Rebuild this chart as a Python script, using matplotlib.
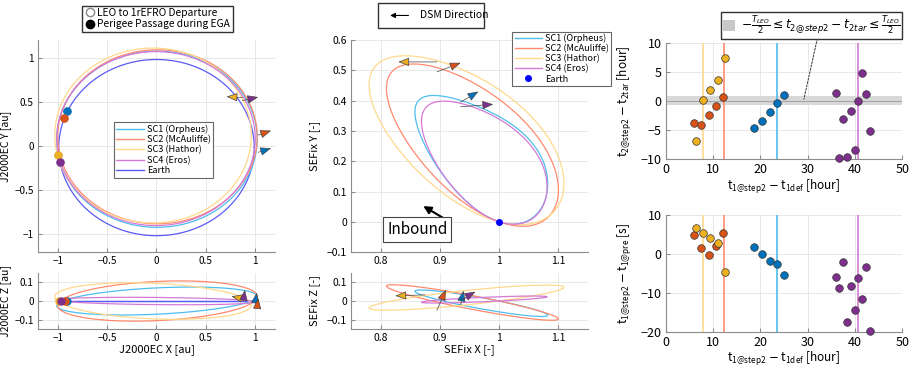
import numpy as np
import matplotlib
matplotlib.use("Agg")
import matplotlib.pyplot as plt
from matplotlib.lines import Line2D
from matplotlib.patches import Patch, Rectangle, FancyArrowPatch
from matplotlib.ticker import FuncFormatter

plt.rcParams['font.family'] = ['Noto Sans CJK JP', 'DejaVu Sans']
plt.rcParams['font.size'] = 7.5
plt.rcParams['axes.unicode_minus'] = True

# ---- data ----
sc_names = ['SC1 (Orpheus)', 'SC2 (McAuliffe)', 'SC3 (Hathor)', 'SC4 (Eros)']
line_colors = ['#4DBEEE', '#FF8A6E', '#FFD98C', '#D47AD6']
dot_colors = ['#0072BD', '#D95319', '#EDB120', '#7E2F8E']
earth_color = '#5A5AF5'

# J2000EC orbits (ellipse centre, semi-axes, out-of-plane amplitude)
j2k_cx = [0.005, 0.01, -0.035, -0.005]
j2k_cy = [0.078, 0.105, 0.12, 0.085]
j2k_a = [1.015, 1.01, 0.995, 1.005]
j2k_b = [0.9975, 0.985, 0.99, 0.985]
j2k_kz = [0.075, 0.108, 0.098, 0.02]
earth_c = [0.0, -0.017]
earth_r = [0.99, 0.9975]
perigee_x = [-0.905, -0.935, -0.995, -0.98]
perigee_y = [0.40, 0.32, -0.10, -0.18]
perigee_z_x = [-0.905, -0.93, -0.99, -0.97]

# DSM direction arrows (tail -> head), J2000EC X-Y and X-Z
j2k_xy_tail = [(1.03, -0.07), (1.03, 0.125), (0.87, 0.55), (0.87, 0.515)]
j2k_xy_head = [(1.16, -0.025), (1.16, 0.175), (0.71, 0.56), (1.03, 0.555)]
j2k_xz_tail = [(1.0, -0.015), (1.02, -0.035), (0.88, 0.012), (0.88, 0.0)]
j2k_xz_head = [(1.015, 0.045), (1.03, 0.015), (0.76, 0.025), (0.895, 0.06)]

# SEFix loops (t = 0 at Earth)
sef_cx = [0.97, 0.955, 0.945, 0.975]
sef_ax = [0.03, 0.045, 0.055, 0.025]
sef_bx = [0.108, 0.138, 0.155, 0.103]
sef_cy = [0.199, 0.25, 0.2675, 0.1915]
sef_by = [-0.0675, -0.095, -0.0775, -0.065]
sef_gy = [0.0485, 0.025, 0.025, 0.0335]
sef_cz = [-0.012, -0.008, 0.018, 0.008]
sef_bz = [-0.07, -0.095, 0.065, 0.017]
sef_xy_tail = [(0.935, 0.395), (0.895, 0.495), (0.895, 0.528), (0.935, 0.38)]
sef_xy_head = [(0.965, 0.43), (0.935, 0.525), (0.83, 0.528), (0.99, 0.388)]
sef_xz_tail = [(0.935, -0.02), (0.895, -0.05), (0.875, 0.033), (0.935, 0.005)]
sef_xz_head = [(0.94, 0.055), (0.91, 0.06), (0.825, 0.028), (0.96, 0.05)]

# step-2 timing results
dt1_sc1 = [18.75, 20.4, 21.95, 23.55, 25.1]
dt2_sc1 = [-4.73, -3.41, -1.92, -0.37, 1.0]
dpre_sc1 = [1.77, -0.03, -1.74, -2.51, -5.34]
dt1_sc2 = [5.9, 7.5, 9.05, 10.6, 12.2]
dt2_sc2 = [-3.75, -4.1, -2.44, -0.83, 0.72]
dpre_sc2 = [4.94, 1.43, -0.28, 2.12, 5.28]
dt1_sc3 = [6.35, 7.9, 9.45, 11.0, 12.6]
dt2_sc3 = [-6.85, 0.14, 1.86, 3.58, 7.36]
dpre_sc3 = [6.65, 5.28, 4.0, 2.8, -4.74]
dt1_sc4 = [35.95, 36.7, 37.5, 38.3, 39.1, 39.9, 40.7, 41.5, 42.3, 43.1]
dt2_sc4 = [1.35, -9.83, -3.12, -9.71, -1.75, -8.4, 0.03, 4.73, 1.23, -5.24]
dpre_sc4 = [-5.86, -8.68, -2.17, -17.6, -8.17, -14.4, -6.27, -11.68, -3.28, -19.8]
t1def_line = [23.6, 12.3, 7.95, 40.7]
t_leo_half = 0.75

dt1_all = [dt1_sc1, dt1_sc2, dt1_sc3, dt1_sc4]
dt2_all = [dt2_sc1, dt2_sc2, dt2_sc3, dt2_sc4]
dpre_all = [dpre_sc1, dpre_sc2, dpre_sc3, dpre_sc4]


def fmt(v, pos):
    return ('%g' % v).replace('-', '\u2212')


def style(ax, size=7.5):
    ax.grid(True, color='#e4e4e4', lw=0.6)
    ax.set_axisbelow(True)
    for s in ['top', 'right']:
        ax.spines[s].set_visible(False)
    for s in ['left', 'bottom']:
        ax.spines[s].set_color('#8c8c8c')
        ax.spines[s].set_linewidth(0.8)
    ax.tick_params(direction='in', length=3, color='#8c8c8c', labelsize=size, pad=3)
    ax.xaxis.set_major_formatter(FuncFormatter(fmt))
    ax.yaxis.set_major_formatter(FuncFormatter(fmt))


def arrow(ax, tail, head, color):
    ax.annotate('', xy=head, xytext=tail,
                arrowprops=dict(arrowstyle='-|>,head_length=0.9,head_width=0.35',
                                fc=color, ec='#444444', lw=0.5, shrinkA=0, shrinkB=0))


def frame(leg, ec='#666666', lw=0.8):
    leg.get_frame().set_edgecolor(ec)
    leg.get_frame().set_linewidth(lw)


fig = plt.figure(figsize=(9.2, 3.68), dpi=100)
ax1 = fig.add_axes([0.0413, 0.315, 0.2576, 0.576])
ax2 = fig.add_axes([0.0413, 0.106, 0.2576, 0.152])
ax3 = fig.add_axes([0.3815, 0.315, 0.2576, 0.576])
ax4 = fig.add_axes([0.3815, 0.106, 0.2576, 0.152])
ax5 = fig.add_axes([0.7236, 0.568, 0.2572, 0.316])
ax6 = fig.add_axes([0.7236, 0.0986, 0.2572, 0.317])

# ---- J2000EC ----
tt = np.linspace(0, 2 * np.pi, 400)
ax1.plot(earth_c[0] + earth_r[0] * np.cos(tt), earth_c[1] + earth_r[1] * np.sin(tt),
         color=earth_color, lw=0.9, zorder=2)
ax2.plot(earth_c[0] + earth_r[0] * np.cos(tt), 0 * tt, color=earth_color, lw=0.9, zorder=2)
for i in range(4):
    t0 = np.arctan2((perigee_y[i] - j2k_cy[i]) / j2k_b[i], (perigee_x[i] - j2k_cx[i]) / j2k_a[i])
    t = t0 + tt
    x = j2k_cx[i] + j2k_a[i] * np.cos(t)
    y = j2k_cy[i] + j2k_b[i] * np.sin(t)
    z = j2k_kz[i] * np.sin(t0 - t)
    ax1.plot(x, y, color=line_colors[i], lw=0.9, zorder=3)
    ax2.plot(x, z, color=line_colors[i], lw=0.9, zorder=3)
for i in range(4):
    ax1.plot(perigee_x[i], perigee_y[i], 'o', mfc='white', mec='#888888', ms=5, zorder=4)
    ax1.plot(perigee_x[i], perigee_y[i], 'o', color=dot_colors[i], ms=5, zorder=5)
    ax2.plot(perigee_z_x[i], 0, 'o', color=dot_colors[i], ms=5, zorder=5)
    arrow(ax1, j2k_xy_tail[i], j2k_xy_head[i], dot_colors[i])
    arrow(ax2, j2k_xz_tail[i], j2k_xz_head[i], dot_colors[i])

ax1.set_xlim(-1.2, 1.2)
ax1.set_ylim(-1.2, 1.2)
ax1.set_xticks([-1, -0.5, 0, 0.5, 1])
ax1.set_yticks([-1, -0.5, 0, 0.5, 1])
ax1.set_ylabel('J2000EC Y [au]', fontsize=7.5)
ax2.set_xlim(-1.2, 1.2)
ax2.set_ylim(-0.15, 0.15)
ax2.set_xticks([-1, -0.5, 0, 0.5, 1])
ax2.set_yticks([-0.1, 0, 0.1])
ax2.set_xlabel('J2000EC X [au]', fontsize=8, labelpad=1)
ax2.set_ylabel('J2000EC Z [au]', fontsize=7.5)
for ax in (ax1, ax2):
    style(ax, 7.2)
    ax.yaxis.set_label_coords(-0.112, 0.5)

h1 = [Line2D([], [], color=c, lw=1) for c in line_colors] + [Line2D([], [], color=earth_color, lw=1)]
leg = ax1.legend(h1, sc_names + ['Earth'], loc='upper left', bbox_to_anchor=(0.30, 0.635),
                 fontsize=6.6, handlelength=3.0, handletextpad=0.3, labelspacing=0.12,
                 borderpad=0.3, fancybox=False, framealpha=1)
frame(leg)

hm = [Line2D([], [], ls='none', marker='o', mfc='white', mec='#888888', ms=6),
      Line2D([], [], ls='none', marker='o', color='black', ms=6)]
leg = fig.legend(hm, ['LEO to 1rEFRO Departure', 'Perigee Passage during EGA'],
                 loc='upper left', bbox_to_anchor=(0.084, 0.999), fontsize=7.4,
                 handletextpad=0.2, labelspacing=0.1, borderpad=0.25, handlelength=1.0,
                 fancybox=False, framealpha=1)
frame(leg, '#333333', 1.0)

# ---- SEFix ----
for i in range(4):
    x = sef_cx[i] + sef_ax[i] * np.cos(tt) + sef_bx[i] * np.sin(tt)
    y = sef_cy[i] * (1 - np.cos(tt)) + sef_by[i] * np.sin(tt) + sef_gy[i] * np.sin(tt) ** 2
    z = sef_cz[i] * (1 - np.cos(tt)) + sef_bz[i] * np.sin(tt)
    ax3.plot(x, y, color=line_colors[i], lw=0.9, zorder=3)
    ax4.plot(x, z, color=line_colors[i], lw=0.9, zorder=3)
for i in range(4):
    arrow(ax3, sef_xy_tail[i], sef_xy_head[i], dot_colors[i])
    arrow(ax4, sef_xz_tail[i], sef_xz_head[i], dot_colors[i])
ax3.plot(1.0, 0.0, 'o', color='#0000FF', ms=4, zorder=5)

ax3.annotate('', xy=(0.872, 0.052), xytext=(0.913, 0.004),
             arrowprops=dict(arrowstyle='-|>,head_length=0.6,head_width=0.3',
                             color='black', lw=1.5, shrinkA=0, shrinkB=0))
ax3.text(0.862, -0.025, 'Inbound', fontsize=11, ha='center', va='center',
         bbox=dict(boxstyle='square,pad=0.25', fc='white', ec='#444444', lw=0.8))

ax3.set_xlim(0.75, 1.15)
ax3.set_ylim(-0.1, 0.6)
ax3.set_xticks([0.8, 0.9, 1, 1.1])
ax3.set_yticks(np.round(np.arange(-0.1, 0.61, 0.1), 1))
ax3.set_ylabel('SEFix Y [-]', fontsize=8)
ax4.set_xlim(0.75, 1.15)
ax4.set_ylim(-0.15, 0.15)
ax4.set_xticks([0.8, 0.9, 1, 1.1])
ax4.set_yticks([-0.1, 0, 0.1])
ax4.set_xlabel('SEFix X [-]', fontsize=8, labelpad=1)
ax4.set_ylabel('SEFix Z [-]', fontsize=8)
for ax in (ax3, ax4):
    style(ax)
    ax.yaxis.set_label_coords(-0.13, 0.5)

h3 = [Line2D([], [], color=c, lw=1) for c in line_colors] + \
     [Line2D([], [], ls='none', marker='o', color='#0000FF', ms=4)]
leg = ax3.legend(h3, sc_names + ['Earth'], loc='upper left', bbox_to_anchor=(0.552, 0.926),
                 bbox_transform=fig.transFigure, fontsize=6.6, handlelength=3.0,
                 handletextpad=0.3, labelspacing=0.1, borderpad=0.25, fancybox=False,
                 framealpha=1)
frame(leg)

fig.patches.append(Rectangle((0.411, 0.924), 0.115, 0.068, transform=fig.transFigure,
                             fc='white', ec='#333333', lw=1.0))
fig.patches.append(FancyArrowPatch((0.447, 0.958), (0.421, 0.958), transform=fig.transFigure,
                                   arrowstyle='-|>,head_length=3,head_width=1.5',
                                   color='black', lw=0.8))
fig.text(0.456, 0.958, 'DSM Direction', fontsize=7.5, va='center', ha='left')

# ---- timing panels ----
for i in range(4):
    ax5.axvline(t1def_line[i], color=line_colors[i], lw=1.2, zorder=2)
    ax6.axvline(t1def_line[i], color=line_colors[i], lw=1.2, zorder=2)
ax5.axhspan(-t_leo_half, t_leo_half, color='#d9d9d9', lw=0, zorder=1)
ax5.axhline(0, color='#a6a6a6', lw=0.8, zorder=1)
for i in range(4):
    ax5.scatter(dt1_all[i], dt2_all[i], s=30, color=dot_colors[i], edgecolor='#333333',
                lw=0.5, zorder=4, clip_on=False)
    ax6.scatter(dt1_all[i], dpre_all[i], s=30, color=dot_colors[i], edgecolor='#333333',
                lw=0.5, zorder=4, clip_on=False)

xlab = r'$\mathregular{t_{1@step2}}$ $-$ $\mathregular{t_{1def}}$ [hour]'
ax5.set_xlim(0, 50)
ax5.set_ylim(-10, 10)
ax5.set_xticks([0, 10, 20, 30, 40, 50])
ax5.set_yticks([-10, -5, 0, 5, 10])
ax5.set_xlabel(xlab, fontsize=8.5, labelpad=1)
ax5.set_ylabel(r'$\mathregular{t_{2@step2}}$ $-$ $\mathregular{t_{2tar}}$ [hour]', fontsize=8.5)
ax6.set_xlim(0, 50)
ax6.set_ylim(-20, 10)
ax6.set_xticks([0, 10, 20, 30, 40, 50])
ax6.set_yticks([-20, -10, 0, 10])
ax6.set_xlabel(xlab, fontsize=8.5, labelpad=1)
ax6.set_ylabel(r'$\mathregular{t_{1@step2}}$ $-$ $\mathregular{t_{1@pre}}$ [s]', fontsize=8.5)
for ax in (ax5, ax6):
    style(ax, 9)
    ax.yaxis.set_label_coords(-0.135, 0.5)

ax5.annotate('', xy=(29.2, 0.3), xytext=(32.2, 11.3), annotation_clip=False,
             arrowprops=dict(arrowstyle='-', ls=(0, (2, 1.5)), color='#333333', lw=0.7,
                             shrinkA=0, shrinkB=0))
leg = fig.legend([Patch(fc='#c8c8c8', ec='none')],
                 [r'$-\frac{\mathbf{\mathit{T_{LEO}}}}{2} \leq t_{2@step2} - t_{2tar} \leq '
                  r'\frac{\mathbf{\mathit{T_{LEO}}}}{2}$'],
                 loc='upper left', bbox_to_anchor=(0.777, 0.985), fontsize=8.8,
                 handlelength=1.0, handleheight=1.0, handletextpad=0.5, borderpad=0.15,
                 fancybox=False, framealpha=1)
frame(leg, '#333333', 1.0)

fig.savefig('out.png', dpi=100)
